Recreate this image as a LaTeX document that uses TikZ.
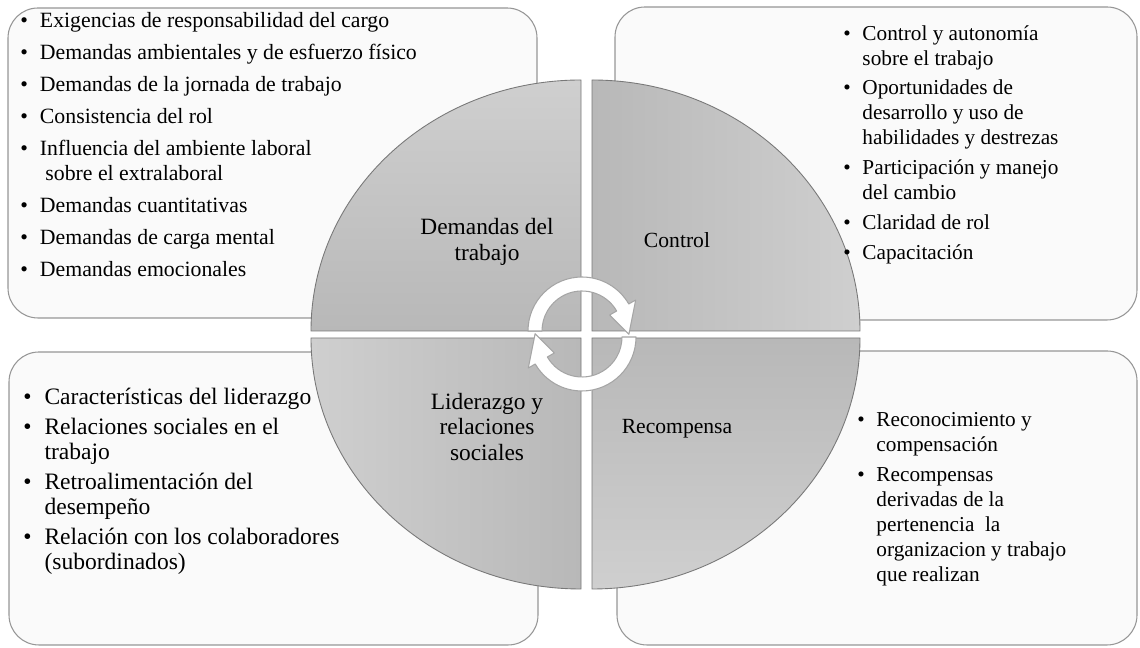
\documentclass[tikz,border=0pt]{standalone}
\usepackage{fontspec}
\setmainfont{Liberation Serif}
\usetikzlibrary{positioning}
\definecolor{boxfill}{RGB}{250,250,250}
\definecolor{boxline}{RGB}{150,150,150}
\definecolor{quadlight}{RGB}{207,207,207}
\definecolor{quaddark}{RGB}{184,184,184}
\definecolor{quadline}{RGB}{120,120,120}
\definecolor{arrline}{RGB}{165,165,165}
\newcommand{\itm}{\textbullet\hspace{0.55em}}
\newcommand{\cnt}{\phantom{\textbullet}\hspace{0.55em}}

\begin{document}
\begin{tikzpicture}[x=0.02cm, y=0.02cm,
    listbox/.style={draw=boxline, fill=boxfill, rounded corners=0.6cm, line width=0.6pt},
    quad/.style={draw=quadline, line width=0.5pt},
    cyclearrow/.style={draw=arrline, fill=white, line width=0.6pt, line join=round},
    listtext/.style={align=left, inner sep=0pt, anchor=north west, font=\fontsize{12.1}{14.2}\selectfont},
    quadlabel/.style={align=center, inner sep=0pt, font=\fontsize{13.3}{14.5}\selectfont}]

    \useasboundingbox (0,0) rectangle (1140,648);

    % list boxes
    \draw[listbox] (8,330) rectangle (537,640);
    \draw[listbox] (615,328) rectangle (1137,641);
    \draw[listbox] (9,3) rectangle (538,296);
    \draw[listbox] (617,3) rectangle (1137,297);

    % quadrants
    \shadedraw[quad, top color=quadlight, bottom color=quaddark]
        (581,317) -- (311,317) arc[start angle=180, end angle=90, x radius=270, y radius=251] -- cycle;
    \shadedraw[quad, left color=quaddark, right color=quadlight]
        (592,317) -- (592,568) arc[start angle=90, end angle=0, x radius=268, y radius=251] -- cycle;
    \shadedraw[quad, top color=quaddark, bottom color=quadlight]
        (592,310) -- (860,310) arc[start angle=0, end angle=-90, x radius=268, y radius=251] -- cycle;
    \shadedraw[quad, left color=quadlight, right color=quaddark]
        (581,310) -- (581,59) arc[start angle=270, end angle=180, x radius=270, y radius=251] -- cycle;

    % cycle arrows
    \begin{scope}[shift={(582,317)}]
        \filldraw[cyclearrow] (180:54) arc[start angle=180, end angle=30, radius=54]
            -- (30:62) -- (-4:47) -- (30:32) -- (30:40)
            arc[start angle=30, end angle=180, radius=40] -- cycle;
    \end{scope}
    \begin{scope}[shift={(582,311)}]
        \filldraw[cyclearrow] (0:54) arc[start angle=0, end angle=-150, radius=54]
            -- (-150:62) -- (176:47) -- (-150:32) -- (-150:40)
            arc[start angle=-150, end angle=0, radius=40] -- cycle;
    \end{scope}

    % quadrant labels
    \node[quadlabel] (demandas) at (487,406) {Demandas del\\trabajo};
    \node[quadlabel, font=\fontsize{12.3}{14.5}\selectfont] (control) at (677,408) {Control};
    \node[quadlabel] (liderazgo) at (487,221) {Liderazgo y\\relaciones\\sociales};
    \node[quadlabel, font=\fontsize{12.3}{14.5}\selectfont] (recompensa) at (677,219) {Recompensa};

    % lists
    \node[listtext, font=\fontsize{12.4}{14.2}\selectfont] (demlist) at (20,636) {%
        \itm Exigencias de responsabilidad del cargo\\[4pt]
        \itm Demandas ambientales y de esfuerzo físico\\[4pt]
        \itm Demandas de la jornada de trabajo\\[4pt]
        \itm Consistencia del rol\\[4pt]
        \itm Influencia del ambiente laboral\\
        \cnt\ sobre el extralaboral\\[4pt]
        \itm Demandas cuantitativas\\[4pt]
        \itm Demandas de carga mental\\[4pt]
        \itm Demandas emocionales};
    \node[listtext] (conlist) at (843,623) {%
        \itm Control y autonomía\\
        \cnt sobre el trabajo\\[2.8pt]
        \itm Oportunidades de\\
        \cnt desarrollo y uso de\\
        \cnt habilidades y destrezas\\[2.8pt]
        \itm Participación y manejo\\
        \cnt del cambio\\[2.8pt]
        \itm Claridad de rol\\[2.8pt]
        \itm Capacitación};
    \node[listtext, font=\fontsize{13.4}{14.2}\selectfont] (lidlist) at (23,260) {%
        \itm Características del liderazgo\\[2.8pt]
        \itm Relaciones sociales en el\\
        \cnt trabajo\\[2.8pt]
        \itm Retroalimentación del\\
        \cnt desempeño\\[2.8pt]
        \itm Relación con los colaboradores\\
        \cnt (subordinados)};
    \node[listtext] (reclist) at (857,236) {%
        \itm Reconocimiento y\\
        \cnt compensación\\[2.8pt]
        \itm Recompensas\\
        \cnt derivadas de la\\
        \cnt pertenencia\ \ la\\
        \cnt organizacion y trabajo\\
        \cnt que realizan};
\end{tikzpicture}
\end{document}
